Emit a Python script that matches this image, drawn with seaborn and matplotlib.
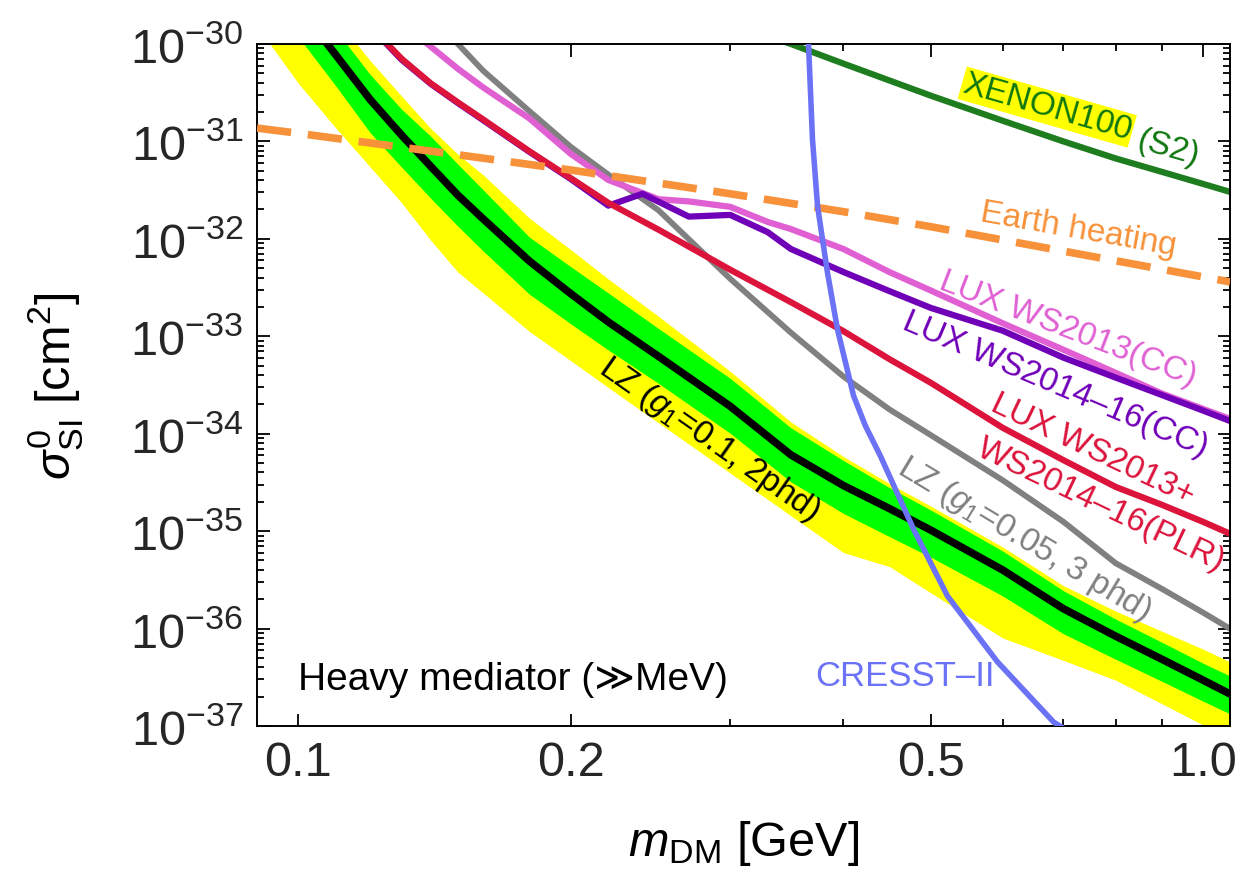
import matplotlib
matplotlib.use("Agg")
import matplotlib.pyplot as plt
import seaborn as sns
from matplotlib.ticker import FixedLocator, FixedFormatter, LogLocator, NullFormatter

# LZ projection (g1=0.1, 2 phd): median line and 1/2-sigma bands on a common mass grid
lz_mass = [0.093, 0.1, 0.11, 0.12, 0.13, 0.14, 0.15, 0.16, 0.18, 0.2, 0.22, 0.25,
           0.3, 0.35, 0.4, 0.45, 0.5, 0.6, 0.7, 0.8, 0.9, 1.0, 1.07]
lz_median = [5.9e-30, 2.4e-30, 7.7e-31, 2.69e-31, 1.16e-31, 5.55e-32, 2.81e-32, 1.60e-32,
             5.90e-33, 2.73e-33, 1.40e-33, 6.21e-34, 1.91e-34, 6.07e-35, 2.94e-35, 1.70e-35,
             1.02e-35, 3.99e-36, 1.60e-36, 8.34e-37, 4.83e-37, 2.94e-37, 2.13e-37]
green_hi = [1.07e-29, 4.3e-30, 1.39e-30, 4.86e-31, 2.14e-31, 1.13e-31, 5.85e-32, 3.18e-32,
            1.04e-32, 5.17e-33, 2.78e-33, 1.20e-33, 3.70e-34, 1.15e-34, 5.31e-35, 2.79e-35,
            1.64e-35, 6.25e-36, 2.45e-36, 1.25e-36, 7.22e-37, 4.39e-37, 3.26e-37]
green_lo = [2.90e-30, 1.18e-30, 3.70e-31, 1.23e-31, 5.45e-32, 2.61e-32, 1.35e-32, 7.51e-33,
            2.70e-33, 1.34e-33, 7.22e-34, 3.28e-34, 1.01e-34, 3.21e-35, 1.52e-35, 8.77e-36,
            5.39e-36, 2.16e-36, 8.86e-37, 4.84e-37, 2.87e-37, 1.79e-37, 1.33e-37]
yellow_hi = [1.41e-29, 5.76e-30, 1.85e-30, 6.76e-31, 2.92e-31, 1.36e-31, 7.40e-32, 4.53e-32,
             1.63e-32, 7.72e-33, 3.87e-33, 1.60e-33, 4.37e-34, 1.32e-34, 5.84e-35, 3.07e-35,
             1.80e-35, 6.87e-36, 2.76e-36, 1.51e-36, 9.37e-37, 6.12e-37, 4.54e-37]
yellow_lo = [1.00e-30, 3.94e-31, 1.37e-31, 5.48e-32, 2.35e-32, 9.68e-33, 4.56e-33, 2.78e-33,
             1.12e-33, 5.60e-34, 2.98e-34, 1.29e-34, 3.94e-35, 1.44e-35, 6.03e-36, 4.32e-36,
             2.32e-36, 8.00e-37, 4.72e-37, 2.95e-37, 1.69e-37, 1.02e-37, 7.41e-38]

# LZ (g1=0.05, 3 phd)
lz2_mass = [0.145, 0.16, 0.18, 0.2, 0.22, 0.25, 0.3, 0.35, 0.4, 0.45, 0.5, 0.6, 0.7,
            0.8, 0.9, 1.0, 1.07]
lz2_sigma = [1.40e-30, 5.31e-31, 2.04e-31, 8.77e-32, 4.56e-32, 1.96e-32, 3.89e-33, 1.09e-33,
             3.87e-34, 1.77e-34, 9.64e-35, 3.33e-35, 1.25e-35, 4.68e-36, 2.55e-36, 1.45e-36,
             9.95e-37]

# LUX WS2013+WS2014-16 (PLR)
plr_mass = [0.12, 0.13, 0.14, 0.15, 0.16, 0.18, 0.2, 0.22, 0.25, 0.3, 0.35, 0.4, 0.45,
            0.5, 0.6, 0.7, 0.8, 0.9, 1.0, 1.07]
plr_sigma = [1.53e-30, 7.06e-31, 3.95e-31, 2.52e-31, 1.68e-31, 7.91e-32, 4.19e-32, 2.34e-32,
             1.24e-32, 4.82e-33, 2.24e-33, 1.13e-33, 5.81e-34, 3.32e-34, 1.15e-34, 5.36e-35,
             2.84e-35, 1.86e-35, 1.24e-35, 9.40e-36]

# LUX WS2013 (CC)
cc13_mass = [0.13, 0.14, 0.15, 0.16, 0.18, 0.2, 0.22, 0.25, 0.27, 0.3, 0.33, 0.35, 0.4,
             0.45, 0.5, 0.6, 0.7, 0.8, 0.9, 1.0, 1.07]
cc13_sigma = [1.65e-30, 9.4e-31, 5.57e-31, 3.58e-31, 1.72e-31, 7.43e-32, 4.02e-32, 2.55e-32,
              2.42e-32, 2.13e-32, 1.49e-32, 1.26e-32, 7.87e-33, 4.55e-33, 2.94e-33, 1.36e-33,
              7.28e-34, 4.21e-34, 2.58e-34, 1.79e-34, 1.42e-34]

# LUX WS2014-16 (CC), runs under the PLR curve below 0.2 GeV
cc16_mass = [0.12, 0.13, 0.14, 0.15, 0.16, 0.18, 0.2, 0.22, 0.24, 0.27, 0.3, 0.33, 0.35,
             0.4, 0.45, 0.5, 0.6, 0.7, 0.8, 0.9, 1.0, 1.07]
cc16_sigma = [1.50e-30, 6.9e-31, 3.9e-31, 2.48e-31, 1.65e-31, 7.8e-32, 4.1e-32, 2.19e-32,
              2.90e-32, 1.69e-32, 1.76e-32, 1.17e-32, 7.87e-33, 4.57e-33, 2.90e-33, 1.95e-33,
              1.14e-33, 6.04e-34, 3.76e-34, 2.49e-34, 1.72e-34, 1.35e-34]

# XENON100 (S2)
xe_mass = [0.34, 0.35, 0.4, 0.5, 0.6, 0.7, 0.8, 0.9, 1.0, 1.07]
xe_sigma = [1.1e-30, 1.0e-30, 6.29e-31, 2.94e-31, 1.63e-31, 1.0e-31, 6.68e-32, 4.86e-32,
            3.65e-32, 3.03e-32]

# Earth heating
earth_mass = [0.09, 0.1, 0.15, 0.2, 0.3, 0.4, 0.5, 0.7, 1.0, 1.07]
earth_sigma = [1.37e-31, 1.21e-31, 7.29e-32, 5.08e-32, 2.90e-32, 1.90e-32, 1.33e-32,
               7.48e-33, 4.06e-33, 3.61e-33]

# CRESST-II
cresst_mass = [0.3655, 0.3661, 0.3698, 0.3746, 0.3841, 0.3940, 0.4106, 0.4232, 0.4396,
               0.4782, 0.5213, 0.5922, 0.6828, 0.70]
cresst_sigma = [1.6e-30, 1.0e-30, 1.06e-31, 2.17e-32, 4.57e-33, 1.19e-33, 2.44e-34, 1.20e-34,
                5.90e-35, 1.05e-35, 2.16e-36, 4.54e-37, 1.10e-37, 9.5e-38]

x_major_ticks = [0.1, 0.2, 0.5, 1.0]
x_major_labels = ['0.1', '0.2', '0.5', '1.0']
x_minor_ticks = [0.3, 0.4, 0.6, 0.7, 0.8, 0.9]

sns.set_theme(style="ticks")
plt.rcParams['font.family'] = ['Liberation Sans', 'DejaVu Sans']
plt.rcParams['mathtext.fontset'] = 'custom'
plt.rcParams['mathtext.rm'] = 'Liberation Sans'
plt.rcParams['mathtext.it'] = 'Liberation Sans:italic'
plt.rcParams['mathtext.bf'] = 'Liberation Sans:bold'
plt.rcParams['mathtext.sf'] = 'Liberation Sans'

fig = plt.figure(figsize=(12.44, 8.78), dpi=100)
ax = fig.add_axes([0.2066, 0.1720, 0.7822, 0.7768])
ax.set_xscale('log')
ax.set_yscale('log')

# bands
ax.fill_between(lz_mass, yellow_lo, yellow_hi, color='#ffff00', lw=0, zorder=1)
ax.fill_between(lz_mass, green_lo, green_hi, color='#00ff00', lw=0, zorder=1.1)


def draw(mass, sigma, color, lw, z, **kw):
    sns.lineplot(x=mass, y=sigma, ax=ax, color=color, linewidth=lw,
                 estimator=None, sort=False, zorder=z, **kw)


draw(lz_mass, lz_median, 'black', 5.5, 2)
draw(lz2_mass, lz2_sigma, '#808080', 4.2, 2.1)
draw(cc13_mass, cc13_sigma, '#e060d4', 4.5, 2.2)
draw(cc16_mass, cc16_sigma, '#7000b8', 4.5, 2.25)
draw(plr_mass, plr_sigma, '#dc143c', 4.5, 2.3)
draw(xe_mass, xe_sigma, '#1e7d1e', 4.5, 2.5)
draw(earth_mass, earth_sigma, '#f7923a', 5.5, 2.6, linestyle=(0, (4.5, 2.2)),
     solid_capstyle='butt', dash_capstyle='butt')
draw(cresst_mass, cresst_sigma, '#6b72f5', 4, 2.7)

ax.set_xlim(0.09, 1.07)
ax.set_ylim(1e-37, 1e-30)

# ticks
ax.xaxis.set_major_locator(FixedLocator(x_major_ticks))
ax.xaxis.set_major_formatter(FixedFormatter(x_major_labels))
ax.xaxis.set_minor_locator(FixedLocator(x_minor_ticks))
ax.xaxis.set_minor_formatter(NullFormatter())
ax.yaxis.set_major_locator(LogLocator(base=10, numticks=20))
ax.yaxis.set_minor_locator(LogLocator(base=10, subs=range(2, 10), numticks=20))
ax.yaxis.set_minor_formatter(NullFormatter())
ax.tick_params(which='both', direction='in', top=True, right=True, color='black', width=1.3)
ax.tick_params(which='major', length=9, labelsize=35, pad=10)
ax.tick_params(which='minor', length=5)
for s in ax.spines.values():
    s.set_color('black')
    s.set_linewidth(1.4)

ax.set_xlabel(r'$m_{\mathrm{DM}}$ [GeV]', fontsize=35, labelpad=24, color='black')
ax.set_ylabel(r'$\sigma^0_{\mathrm{SI}}$ [cm$^2$]', fontsize=35, labelpad=32, color='black')

# labels on the curves
lbl = dict(ha='center', va='center', rotation_mode='anchor', fontsize=24, zorder=5)
ax.text(0.672, 2.25e-31, 'XENON100', color='#117711', rotation=-16,
        bbox=dict(facecolor='#ffff00', edgecolor='none', pad=1), **lbl)
ax.text(0.915, 8.6e-32, '(S2)', color='#117711', rotation=-16, **lbl)
ax.text(0.727, 1.26e-32, 'Earth heating', color='#f7923a', rotation=-10, **lbl)
ax.text(0.709, 1.19e-33, 'LUX WS2013(CC)', color='#e060d4', rotation=-21, **lbl)
ax.text(0.686, 3.24e-34, 'LUX WS2014–16(CC)', color='#7000b8', rotation=-23, **lbl)
ax.text(0.754, 6.97e-35, 'LUX WS2013+', color='#dc143c', rotation=-25.5, **lbl)
ax.text(0.770, 1.90e-35, 'WS2014–16(PLR)', color='#dc143c', rotation=-25.5, **lbl)
ax.text(0.633, 8.32e-36, r'LZ ($g_1$=0.05, 3 phd)', color='#808080', rotation=-31, **lbl)
ax.text(0.284, 8.83e-35, r'LZ ($g_1$=0.1, 2phd)', color='black', rotation=-35, **lbl)
ax.text(0.468, 3.26e-37, 'CRESST–II', color='#6b72f5', ha='center', va='center',
        fontsize=25, zorder=5)
ax.text(0.1, 3.0e-37, 'Heavy mediator (≫MeV)', color='black', ha='left', va='center',
        fontsize=28, zorder=5)

fig.savefig('out.png', dpi=100)
